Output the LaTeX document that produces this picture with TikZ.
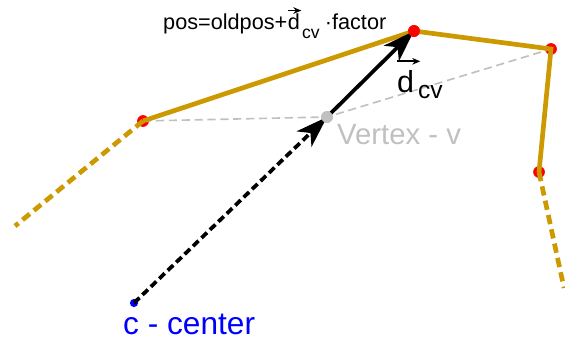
\documentclass[tikz,border=0pt]{standalone}
\usepackage{fontspec}
\setmainfont{Liberation Sans}
\usetikzlibrary{arrows.meta}
\definecolor{gold}{HTML}{CC9900}
\definecolor{lightgray}{HTML}{C0C0C0}
\tikzset{edge/.style={draw=gold,line width=4pt},
  edgeout/.style={edge,dash pattern=on 8pt off 4.5pt},
  guide/.style={draw=lightgray,line width=1.4pt,dash pattern=on 7pt off 4pt},
  vec/.style={-{Stealth[length=9.5mm,width=6.4mm,inset=2.6mm]},line width=3.2pt},
  vecdash/.style={vec,dash pattern=on 6.5pt off 3.5pt},
  mark arrow/.style={-{Stealth[length=2.4mm,width=2mm]},line width=1.4pt},
  pt/.style={circle,inner sep=0pt,minimum size=10pt,fill=red},
  lbl/.style={inner sep=0pt,anchor=base west}}

\begin{document}
\begin{tikzpicture}[x=0.03cm,y=-0.03cm]
\useasboundingbox (0,0) rectangle (565,341);
% polygon ends running out of the picture
\coordinate (outL) at (15,226);
\coordinate (outR) at (564,288);
% vertices
\node[pt] (pL) at (143,121) {};
\node[pt] (pT) at (414,31) {};
\node[pt] (pR) at (551,49) {};
\node[pt] (pB) at (539,172) {};
\node[pt,fill=lightgray] (v) at (327,117) {};
\node[pt,fill=blue,minimum size=7pt] (c) at (134,303) {};
% old neighbours
\draw[guide] (pL.center)--(v.center)--(pR.center);
\draw[edge] (pL.center)--(pT.center)--(pR.center)--(pB.center);
\draw[edgeout] (pL.center)--(outL);\draw[edgeout] (pB.center)--(outR);
\draw[vecdash] (c.center)--(v.center);\draw[vec] (v.center)--(pT.center);
\node[pt] at (pT) {};
\node[pt,fill=lightgray] at (v) {};
% labels
\node[lbl,font=\fontsize{18.5}{20}\selectfont] (formula) at (163,30) {pos=oldpos+};
\node[lbl,font=\fontsize{18.5}{20}\selectfont] (fd) at (formula.base east) {d};
\node[lbl,font=\fontsize{15}{16}\selectfont] (fcv) at ([xshift=1.5pt,yshift=-7pt]fd.base east) {cv};
\node[lbl,font=\fontsize{18.5}{20}\selectfont] (ffac) at ([xshift=4pt]fd.base east-|fcv.east) {·factor};
\draw[mark arrow] ([yshift=3pt]fd.north west)--([yshift=3pt,xshift=1pt]fd.north east);
\node[lbl,font=\fontsize{26}{28}\selectfont] (dd) at (397,93) {d};
\node[lbl,font=\fontsize{21}{23}\selectfont] (dcv) at ([xshift=3pt,yshift=-5pt]dd.base east) {cv};
\draw[mark arrow] ([yshift=8pt]dd.north west)--([yshift=8pt,xshift=5pt]dd.north east);
\node[lbl,font=\fontsize{25}{27}\selectfont,text=lightgray] (vlabel) at (337,145) {Vertex - v};
\node[lbl,font=\fontsize{27}{29}\selectfont,text=blue] (clabel) at (123,334) {c - center};
\end{tikzpicture}
\end{document}
